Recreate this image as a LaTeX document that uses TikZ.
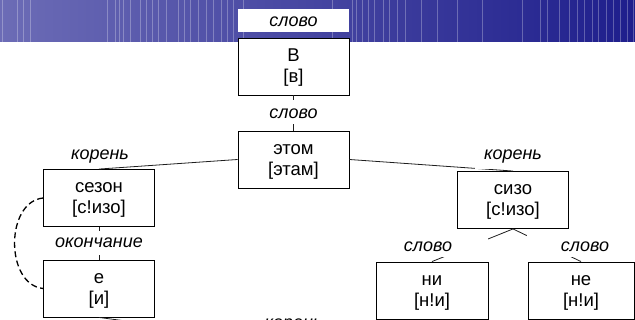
\documentclass[tikz,border=0pt]{standalone}
\usepackage{fontspec}
\setmainfont{Liberation Sans}
\definecolor{banL}{RGB}{108,108,182}
\definecolor{banR}{RGB}{30,30,140}
\definecolor{lineC}{RGB}{30,30,30}
\begin{document}
\begin{tikzpicture}[x=1pt,y=-1pt,
  box/.style={draw=black, line width=0.9pt, fill=white, minimum width=111pt, minimum height=57pt,
    inner sep=0pt, align=center, font=\fontsize{18.5}{21}\selectfont, text height=36pt, text depth=4pt},
  lab/.style={fill=white, inner sep=0pt, font=\fontsize{18}{20}\selectfont\itshape, anchor=base},
  conn/.style={draw=lineC, line width=0.8pt},
  bracketline/.style={draw=black, line width=1.3pt, dash pattern=on 6pt off 3.5pt}]
\useasboundingbox (0,0) rectangle (635,320);
\clip (0,0) rectangle (635,320);
% banner
\shade[left color=banL, right color=banR] (0,0) rectangle (635,42);
\foreach \s in {2,17,23,30,107,115,119,123,130,140,146,152,158,166,178,184,190,198,206,213,221,227,233,243,332,352,356,362,368,374,383,389,397,405,421,437,457,482,522,540,547,559,569,577,584,592,598,606,613,620,627,633}
  \draw[white, opacity=0.28, line width=0.6pt] (\s,0) -- (\s,42);
% boxes
\node[box] (v) at (293.5,66.5) {В\\{[в]}};
\node[box] (etom) at (293.5,159.5) {этом\\{[этам]}};
\node[box] (sezon) at (99,198) {сезон\\{[с!изо]}};
\node[box] (e) at (99,288.5) {е\\{[и]}};
\node[box] (sizo) at (513,200) {сизо\\{[с!изо]}};
\node[box, minimum width=112pt] (ni) at (432,290.5) {ни\\{[н!и]}};
\node[box, minimum width=106pt] (ne) at (581,290.5) {не\\{[н!и]}};
\coordinate (kb) at (293.5,343);
% connectors
\draw[conn] (v.south) -- (etom.north);
\draw[conn] (etom.west) -- (sezon.north);
\draw[conn] (etom.east) -- (sizo.north);
\draw[conn] (sezon.south) -- (e.north);
\draw[conn] (sizo.south) -- (ni.north);
\draw[conn] (sizo.south) -- (ne.north);
\draw[conn] (e.south) -- (kb);
\draw[bracketline] (sezon.west) .. controls +(-38,4) and +(-38,-4) .. (e.west);
% labels
\node[lab, minimum width=111pt, text height=17.7pt, text depth=5.3pt] (lw) at (293.5,26.7) {слово};
\node[lab, minimum width=111pt, text height=19pt, text depth=5pt] (l1) at (293.5,119) {слово};
\node[lab, minimum width=76pt, text height=15pt, text depth=6pt] (l2) at (100,160) {корень};
\node[lab, minimum width=76pt, text height=14pt, text depth=9pt] (l3) at (513,160) {корень};
\node[lab, minimum width=111pt, text height=17pt, text depth=7pt] (l4) at (99,248) {окончание};
\node[lab, minimum width=120pt, text height=16.5pt, text depth=5.5pt] (l5) at (428,251.5) {слово};
\node[lab, minimum width=116pt, text height=16.5pt, text depth=5.5pt] (l6) at (585,251.5) {слово};
\node[lab, minimum width=111pt, text height=11pt, text depth=10pt] (l7) at (293.5,329) {корень};
\end{tikzpicture}
\end{document}
